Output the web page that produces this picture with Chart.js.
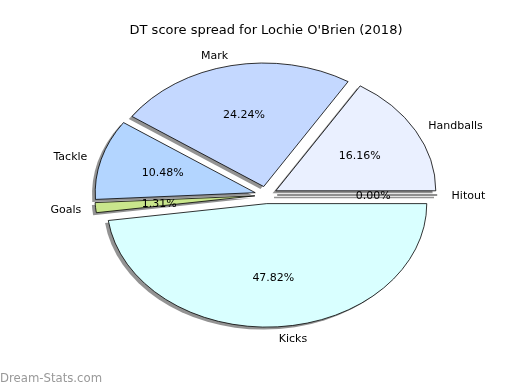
<!DOCTYPE html>
<html><head><meta charset="utf-8">
<script src="https://cdn.jsdelivr.net/npm/chart.js@4.4.1/dist/chart.umd.min.js"></script>
<style>html,body{margin:0;padding:0;background:#fff}canvas{display:block}</style>
</head><body>
<canvas id="c" width="520" height="390" style="width:520px;height:390px"></canvas>
<script>
const titleText = "DT score spread for Lochie O'Brien (2018)";
// clockwise order starting at 3 o'clock
const categories = ['Hitout', 'Kicks', 'Goals', 'Tackle', 'Mark', 'Handballs'];
const dtPoints = [0, 219, 6, 48, 111, 74];
const sliceColors = ['#ffe4e1', '#d9ffff', '#c9e68c', '#b3d5ff', '#c4d8ff', '#eaf0ff'];
const watermark = 'Dream-Stats.com';

const RADIUS = 160;
const Y_RATIO = 123.5 / 160;
const EXPLODE = 11.2;
const SHADOW_DX = -3.2, SHADOW_DY = 2.5;
const LABEL_DIST = 1.09, PCT_DIST = 0.6;
const FONT = '"DejaVu Sans", sans-serif';
let geo = { cx: 266, cy: 195 };

function ellipse(ctx) {
  ctx.translate(geo.cx, geo.cy);
  ctx.scale(1, Y_RATIO);
  ctx.translate(-geo.cx, -geo.cy);
}
function midAngle(el) { return (el.startAngle + el.endAngle) / 2; }

const piePlugin = {
  id: 'piePlugin',
  beforeDraw(chart) {
    const ctx = chart.ctx;
    ctx.save();
    ctx.fillStyle = '#fff';
    ctx.fillRect(0, 0, chart.width, chart.height);
    ctx.restore();
  },
  afterDatasetsUpdate(chart) {
    const ca = chart.chartArea;
    geo = { cx: (ca.left + ca.right) / 2, cy: (ca.top + ca.bottom) / 2 };
    chart.getDatasetMeta(0).data.forEach(el => {
      const m = midAngle(el);
      el.x = geo.cx + Math.cos(m) * EXPLODE;
      el.y = geo.cy + Math.sin(m) * EXPLODE;
    });
  },
  beforeDatasetsDraw(chart) {
    const ctx = chart.ctx;
    const els = chart.getDatasetMeta(0).data;
    ctx.save();
    ctx.translate(SHADOW_DX, SHADOW_DY);
    ellipse(ctx);
    ctx.fillStyle = 'rgba(40,40,40,0.5)';
    ctx.strokeStyle = 'rgba(40,40,40,0.5)';
    els.forEach(el => {
      ctx.beginPath();
      ctx.moveTo(el.x, el.y);
      ctx.arc(el.x, el.y, el.outerRadius, el.startAngle, el.endAngle);
      ctx.closePath();
      if (el.endAngle - el.startAngle > 0) ctx.fill(); else { ctx.lineWidth = 2; ctx.stroke(); }
    });
    ctx.restore();
    ctx.save();
    ellipse(ctx);
  },
  afterDatasetsDraw(chart) {
    const ctx = chart.ctx;
    const els = chart.getDatasetMeta(0).data;
    els.forEach(el => {
      if (el.endAngle - el.startAngle <= 0) {
        ctx.beginPath();
        ctx.moveTo(el.x, el.y);
        ctx.lineTo(el.x + Math.cos(el.startAngle) * el.outerRadius, el.y + Math.sin(el.startAngle) * el.outerRadius);
        ctx.strokeStyle = '#000';
        ctx.lineWidth = 1;
        ctx.stroke();
      }
    });
    ctx.restore();
    // labels
    const total = dtPoints.reduce((a, b) => a + b, 0);
    ctx.save();
    ctx.font = '11px ' + FONT;
    ctx.fillStyle = '#000';
    ctx.textBaseline = 'middle';
    els.forEach((el, i) => {
      const m = midAngle(el);
      const c = Math.cos(m), s = Math.sin(m);
      const ex = geo.cx + c * EXPLODE, ey = geo.cy + s * EXPLODE * Y_RATIO + 1;
      const r = el.outerRadius;
      ctx.textAlign = c >= 0 ? 'left' : 'right';
      ctx.fillText(categories[i], ex + LABEL_DIST * r * c, ey + LABEL_DIST * r * Y_RATIO * s);
      ctx.textAlign = 'center';
      ctx.fillText((dtPoints[i] / total * 100).toFixed(2) + '%', ex + PCT_DIST * r * c, ey + PCT_DIST * r * Y_RATIO * s);
    });
    ctx.restore();
  },
  afterDraw(chart) {
    const ctx = chart.ctx;
    ctx.save();
    ctx.font = '11.7px ' + FONT;
    ctx.fillStyle = '#999';
    ctx.textAlign = 'left';
    ctx.textBaseline = 'middle';
    ctx.fillText(watermark, 0, 379);
    ctx.restore();
  }
};

new Chart(document.getElementById('c'), {
  type: 'pie',
  data: {
    labels: categories,
    datasets: [{
      data: dtPoints,
      backgroundColor: sliceColors,
      borderColor: '#000',
      borderWidth: 0.9,
      borderJoinStyle: 'miter'
    }]
  },
  options: {
    responsive: false,
    animation: false,
    events: [],
    rotation: 90,
    radius: RADIUS,
    layout: { padding: { left: 12, right: 0, top: 0, bottom: 38.6 } },
    plugins: {
      legend: { display: false },
      tooltip: { enabled: false },
      title: {
        display: true,
        text: titleText,
        color: '#000',
        font: { family: FONT, size: 13, weight: 'normal' },
        padding: { top: 23, bottom: 0 }
      }
    }
  },
  plugins: [piePlugin]
});
</script>
</body></html>
